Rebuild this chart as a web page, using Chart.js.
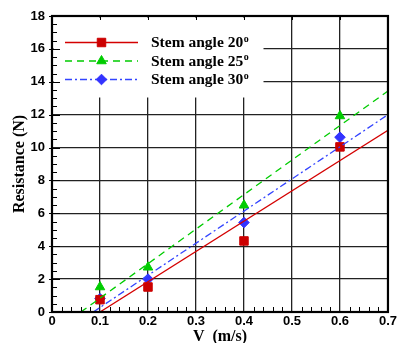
<!DOCTYPE html>
<html>
<head>
<meta charset="utf-8">
<script src="https://cdn.jsdelivr.net/npm/chart.js@4/dist/chart.umd.min.js"></script>
<style>
  html, body { margin: 0; padding: 0; background: #fff; }
  #wrap { width: 399px; height: 343px; }
</style>
</head>
<body>
<div id="wrap"><canvas id="resistanceChart"></canvas></div>
<script>
// measured points
const speeds = [0.1, 0.2, 0.4, 0.6];
const res20 = [0.75, 1.52, 4.32, 10.04];
const res25 = [1.52, 2.72, 6.49, 11.92];
const res30 = [0.81, 2.0, 5.44, 10.63];

// linear fits (end points)
const fitX20 = [0.1, 0.7], fitY20 = [0, 11.05];
const fitX25 = [0.06, 0.7], fitY25 = [0, 13.44];
const fitX30 = [0.086, 0.7], fitY30 = [0, 12.0];

const xTicks = [0, 0.1, 0.2, 0.3, 0.4, 0.5, 0.6, 0.7];
const yTicks = [0, 2, 4, 6, 8, 10, 12, 14, 16, 18];
const legendLabels = ["Stem angle 20°", "Stem angle 25°", "Stem angle 30°"];

const toXY = (xs, ys) => xs.map((x, i) => ({ x: x, y: ys[i] }));

const red = "#d40000", green = "#00cc00", blue = "#3344ff";

// white legend box drawn inside the plot, line + marker + label
const legendBox = {
  id: "legendBox",
  afterDatasetsDraw(chart) {
    const ctx = chart.ctx, area = chart.chartArea;
    ctx.save();
    ctx.fillStyle = "#fff";
    ctx.fillRect(area.left + 1.5, area.top + 1.5, 210, 80);
    const rows = [42.5, 61, 79.5];
    const fits = chart.data.datasets.slice(0, 3);
    const marks = chart.data.datasets.slice(3, 6);
    rows.forEach((y, i) => {
      ctx.strokeStyle = fits[i].borderColor;
      ctx.lineWidth = 1.3;
      ctx.setLineDash(fits[i].borderDash || []);
      ctx.beginPath();
      ctx.moveTo(65, y);
      ctx.lineTo(138, y);
      ctx.stroke();
      ctx.setLineDash([]);
      ctx.fillStyle = marks[i].backgroundColor;
      ctx.strokeStyle = marks[i].borderColor;
      ctx.lineWidth = 1;
      Chart.helpers.drawPoint(ctx, {
        pointStyle: marks[i].pointStyle,
        radius: marks[i].pointRadius,
        borderWidth: 1
      }, 101.5, y);
      ctx.fillStyle = "#000";
      ctx.font = "bold 15.5px 'Liberation Serif'";
      ctx.textBaseline = "alphabetic";
      const base = legendLabels[i].slice(0, -1);
      ctx.fillText(base, 151, y + 4.5);
      const w = ctx.measureText(base).width;
      ctx.font = "bold 10px 'Liberation Serif'";
      ctx.fillText("o", w + 151.5, y - 1);
    });
    ctx.restore();
  }
};

// inward minor ticks on the bottom and left axes, short major ticks on top
const minorTicks = {
  id: "minorTicks",
  afterDraw(chart) {
    const ctx = chart.ctx, area = chart.chartArea;
    const xs = chart.scales.x, ys = chart.scales.y;
    ctx.save();
    ctx.strokeStyle = "#000";
    ctx.lineWidth = 1;
    ctx.beginPath();
    for (let k = 1; k < 35; k++) {
      if (k % 5 === 0) continue;
      const px = Math.round(xs.getPixelForValue(k * 0.02)) + 0.5;
      ctx.moveTo(px, area.bottom);
      ctx.lineTo(px, area.bottom - 5);
    }
    for (let k = 1; k < 36; k++) {
      if (k % 4 === 0) continue;
      const py = Math.round(ys.getPixelForValue(k * 0.5)) + 0.5;
      ctx.moveTo(area.left, py);
      ctx.lineTo(area.left + 5, py);
    }
    xTicks.forEach(v => {
      const px = Math.round(xs.getPixelForValue(v)) + 0.5;
      ctx.moveTo(px, area.top);
      ctx.lineTo(px, area.top + 4);
    });
    yTicks.forEach(v => {
      const py = Math.round(ys.getPixelForValue(v)) + 0.5;
      ctx.moveTo(area.left - 3, py);
      ctx.lineTo(area.left + 8, py);
    });
    ctx.stroke();
    ctx.lineWidth = 2.2;
    ctx.strokeRect(area.left, area.top, area.right - area.left, area.bottom - area.top);
    ctx.restore();
  }
};

const fitLine = (data, color, dash) => ({
  data: data,
  showLine: true,
  borderColor: color,
  borderWidth: 1.3,
  borderDash: dash,
  pointRadius: 0,
  pointHoverRadius: 0,
  fill: false
});

const markers = (data, color, style, r) => ({
  data: data,
  showLine: false,
  pointStyle: style,
  pointRadius: r,
  backgroundColor: color,
  borderColor: color,
  borderWidth: 1
});

new Chart(document.getElementById("resistanceChart"), {
  type: "scatter",
  data: {
    datasets: [
      fitLine(toXY(fitX20, fitY20), red, []),
      fitLine(toXY(fitX25, fitY25), green, [7, 5]),
      fitLine(toXY(fitX30, fitY30), blue, [7, 3, 2, 3]),
      markers(toXY(speeds, res20), "#cc0000", "rect", 6),
      markers(toXY(speeds, res25), "#00cc00", "triangle", 5.5),
      markers(toXY(speeds, res30), "#3333ff", "rectRot", 5.3)
    ]
  },
  options: {
    responsive: true,
    maintainAspectRatio: false,
    animation: false,
    layout: { padding: { left: 10, right: 8, top: 16, bottom: 0 } },
    plugins: {
      legend: { display: false },
      tooltip: { enabled: false }
    },
    scales: {
      x: {
        type: "linear",
        min: 0,
        max: 0.7,
        afterBuildTicks: s => { s.ticks = xTicks.map(v => ({ value: v })); },
        afterFit: s => { s.height = 31; },
        grid: { color: "#222", lineWidth: 1.3, drawTicks: false },
        border: { display: false },
        ticks: {
          padding: 2,
          color: "#000",
          font: { family: "'Liberation Sans'", weight: "bold", size: 13 },
          callback: v => (v === 0 ? "0" : v.toFixed(1))
        },
        title: {
          display: true,
          text: "V  (m/s)",
          color: "#000",
          padding: { top: 0, bottom: -2 },
          font: { family: "'Liberation Serif'", weight: "bold", size: 16, lineHeight: 1 }
        }
      },
      y: {
        type: "linear",
        min: 0,
        max: 18,
        afterBuildTicks: s => { s.ticks = yTicks.map(v => ({ value: v })); },
        afterFit: s => { s.width = 42; },
        grid: { color: "#222", lineWidth: 1.3, drawTicks: false },
        border: { display: false },
        ticks: {
          padding: 7,
          color: "#000",
          font: { family: "'Liberation Sans'", weight: "bold", size: 13 }
        },
        title: {
          display: true,
          text: "Resistance (N)",
          color: "#000",
          padding: { top: 0, bottom: 2 },
          font: { family: "'Liberation Serif'", weight: "bold", size: 16 }
        }
      }
    }
  },
  plugins: [legendBox, minorTicks]
});
</script>
</body>
</html>
